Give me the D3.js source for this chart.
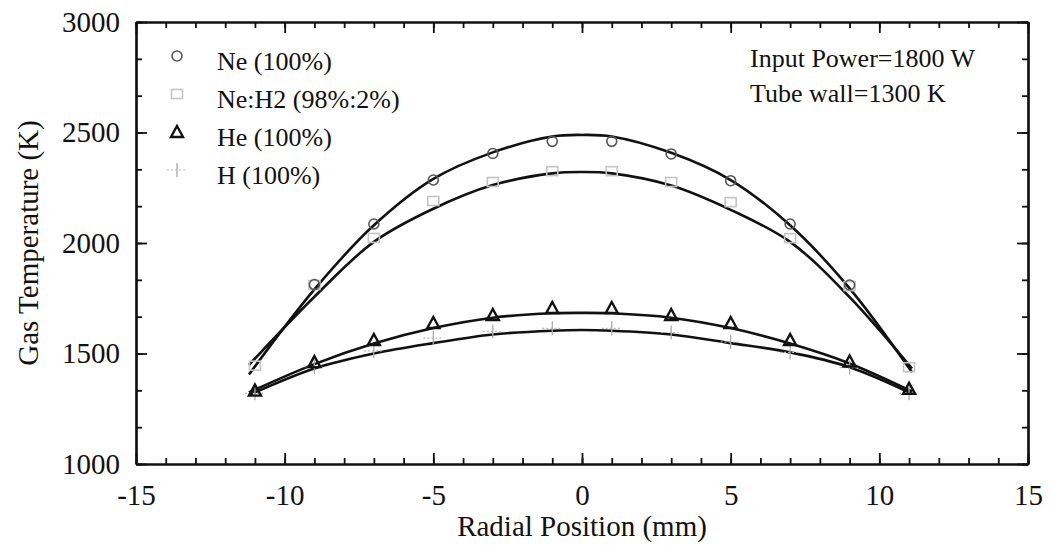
<!DOCTYPE html>
<html>
<head>
<meta charset="utf-8">
<script src="https://cdn.jsdelivr.net/npm/d3@7"></script>
<style>
  body { margin: 0; background: #fff; }
</style>
</head>
<body>
<svg id="chart" width="1050" height="545"></svg>
<script>
// measured points (radial position in mm)
const markerX = [-11, -9, -7, -5, -3, -1, 1, 3, 5, 7, 9, 11];
const neMarkers = [null, 1812, 2086, 2285, 2405, 2460, 2460, 2403, 2282, 2086, 1810, null];
const neH2Markers = [1445, 1810, 2023, 2190, 2276, 2325, 2325, 2276, 2185, 2022, 1805, 1438];
const heMarkers = [1332, 1461, 1561, 1638, 1674, 1706, 1706, 1674, 1638, 1561, 1464, 1340];
const hMarkers = [1320, 1440, 1512, 1570, 1600, 1614, 1614, 1595, 1552, 1505, 1436, 1320];

// fitted curves
const fitX = [-11.2, -9, -7, -5, -3, -1, 0, 1, 3, 5, 7, 9, 11.1];
const neFit = [1405, 1790, 2080, 2290, 2410, 2482, 2489, 2482, 2408, 2285, 2080, 1795, 1415];
const neH2Fit = [1448, 1757, 2005, 2155, 2262, 2315, 2321, 2315, 2260, 2150, 2005, 1755, 1432];
const heFit = [1324, 1452, 1545, 1615, 1662, 1682, 1684, 1682, 1662, 1615, 1545, 1455, 1328];
const hFit = [1312, 1432, 1500, 1547, 1586, 1603, 1606, 1603, 1586, 1547, 1505, 1438, 1318];

const xTicks = [-15, -10, -5, 0, 5, 10, 15];
const yTicks = [1000, 1500, 2000, 2500, 3000];
const legendLabels = ['Ne (100%)', 'Ne:H2 (98%:2%)', 'He (100%)', 'H (100%)'];
const notes = ['Input Power=1800 W', 'Tube wall=1300 K'];

const FONT = "'Liberation Serif', LiberationSerif, Tinos, 'Times New Roman', Times, " +
    "'Nimbus Roman', 'Nimbus Roman No9 L', FreeSerif, 'DejaVu Serif', 'Noto Serif', serif";

const svg = d3.select('#chart');
const plotLeft = 136, plotRight = 1028, plotTop = 22, plotBottom = 464;

const x = d3.scaleLinear().domain([-15, 15]).range([plotLeft, plotRight]);
const y = d3.scaleLinear().domain([1000, 3000]).range([plotBottom, plotTop]);

const xMinor = d3.range(-15, 15.01, 1);
const yMinor = d3.range(0, 13).map(i => 1000 + i * 500 / 3);

function styleAxis(g) {
    g.attr('font-family', FONT);
    g.selectAll('path.domain').attr('stroke', '#111').attr('stroke-width', 2.2);
    g.selectAll('.tick line').attr('stroke', '#111').attr('stroke-width', 1.8);
    g.selectAll('text').style('font-family', FONT).attr('font-size', 29).attr('fill', '#111');
}

// minor ticks
svg.append('g').attr('transform', `translate(0,${plotBottom})`)
    .call(d3.axisBottom(x).tickValues(xMinor).tickSize(-6).tickSizeOuter(0).tickFormat(''))
    .call(styleAxis);
svg.append('g').attr('transform', `translate(0,${plotTop})`)
    .call(d3.axisTop(x).tickValues(xMinor).tickSize(-6).tickSizeOuter(0).tickFormat(''))
    .call(styleAxis);
svg.append('g').attr('transform', `translate(${plotLeft},0)`)
    .call(d3.axisLeft(y).tickValues(yMinor).tickSize(-6).tickSizeOuter(0).tickFormat(''))
    .call(styleAxis);
svg.append('g').attr('transform', `translate(${plotRight},0)`)
    .call(d3.axisRight(y).tickValues(yMinor).tickSize(-6).tickSizeOuter(0).tickFormat(''))
    .call(styleAxis);

// major ticks with labels
svg.append('g').attr('transform', `translate(0,${plotBottom})`)
    .call(d3.axisBottom(x).tickValues(xTicks).tickSize(-11).tickSizeOuter(0)
        .tickPadding(26).tickFormat(d => String(d)))
    .call(styleAxis)
    .selectAll('text').attr('dy', '0.5em');
svg.append('g').attr('transform', `translate(0,${plotTop})`)
    .call(d3.axisTop(x).tickValues(xTicks).tickSize(-11).tickSizeOuter(0).tickFormat(''))
    .call(styleAxis);
svg.append('g').attr('transform', `translate(${plotLeft},0)`)
    .call(d3.axisLeft(y).tickValues(yTicks).tickSize(-11).tickSizeOuter(0)
        .tickPadding(16).tickFormat(d => String(d)))
    .call(styleAxis);
svg.append('g').attr('transform', `translate(${plotRight},0)`)
    .call(d3.axisRight(y).tickValues(yTicks).tickSize(-11).tickSizeOuter(0).tickFormat(''))
    .call(styleAxis);

// axis titles
svg.append('text')
    .attr('x', (plotLeft + plotRight) / 2).attr('y', 536)
    .attr('text-anchor', 'middle').attr('font-size', 29)
    .style('font-family', FONT).attr('fill', '#111')
    .text('Radial Position (mm)');
svg.append('text')
    .attr('transform', `translate(38,${(plotTop + plotBottom) / 2}) rotate(-90)`)
    .attr('text-anchor', 'middle').attr('font-size', 29)
    .style('font-family', FONT).attr('fill', '#111')
    .text('Gas Temperature (K)');

// fitted curves
const line = d3.line()
    .x(d => x(d[0]))
    .y(d => y(d[1]))
    .curve(d3.curveCatmullRom.alpha(0.5));

[neFit, neH2Fit, heFit, hFit].forEach(fit => {
    svg.append('path')
        .attr('d', line(fitX.map((v, i) => [v, fit[i]])))
        .attr('fill', 'none')
        .attr('stroke', '#111')
        .attr('stroke-width', 2.6);
});

// marker drawers
const drawCircle = (g, cx, cy) => g.append('circle')
    .attr('cx', cx).attr('cy', cy).attr('r', 5)
    .attr('fill', 'none').attr('stroke', '#555').attr('stroke-width', 1.6);
const drawSquare = (g, cx, cy) => g.append('rect')
    .attr('x', cx - 5.5).attr('y', cy - 4.5).attr('width', 11).attr('height', 9)
    .attr('fill', 'none').attr('stroke', '#c4c4c4').attr('stroke-width', 1.6);
const drawTriangle = (g, cx, cy) => g.append('path')
    .attr('d', `M${cx},${cy - 6}L${cx + 6},${cy + 5}L${cx - 6},${cy + 5}Z`)
    .attr('fill', 'none').attr('stroke', '#111').attr('stroke-width', 2.4)
    .attr('stroke-linejoin', 'miter');
const drawCross = (g, cx, cy) => {
    g.append('line').attr('x1', cx - 10).attr('x2', cx + 10).attr('y1', cy).attr('y2', cy)
        .attr('stroke', '#bbb').attr('stroke-width', 1.2).attr('stroke-dasharray', '2,2');
    g.append('line').attr('x1', cx).attr('x2', cx).attr('y1', cy - 7).attr('y2', cy + 7)
        .attr('stroke', '#aaa').attr('stroke-width', 1.3);
};

const series = [
    { vals: neMarkers, draw: drawCircle },
    { vals: neH2Markers, draw: drawSquare },
    { vals: heMarkers, draw: drawTriangle },
    { vals: hMarkers, draw: drawCross }
];

const markers = svg.append('g').attr('class', 'markers');
[series[3], series[1], series[0], series[2]].forEach(s => {
    s.vals.forEach((v, i) => {
        if (v === null) return;
        s.draw(markers, x(markerX[i]), y(v));
    });
});

// legend
const legend = svg.append('g').attr('class', 'legend');
legendLabels.forEach((label, i) => {
    const ly = 62 + i * 38;
    series[i].draw(legend, 177, ly - 6);
    legend.append('text')
        .attr('x', 217).attr('y', ly + 8)
        .attr('font-size', 26)
        .style('font-family', FONT).attr('fill', '#111')
        .text(label);
});

// notes
notes.forEach((t, i) => {
    svg.append('text')
        .attr('x', 750).attr('y', 67 + i * 35)
        .attr('font-size', 26)
        .style('font-family', FONT).attr('fill', '#111')
        .text(t);
});
</script>
</body>
</html>
